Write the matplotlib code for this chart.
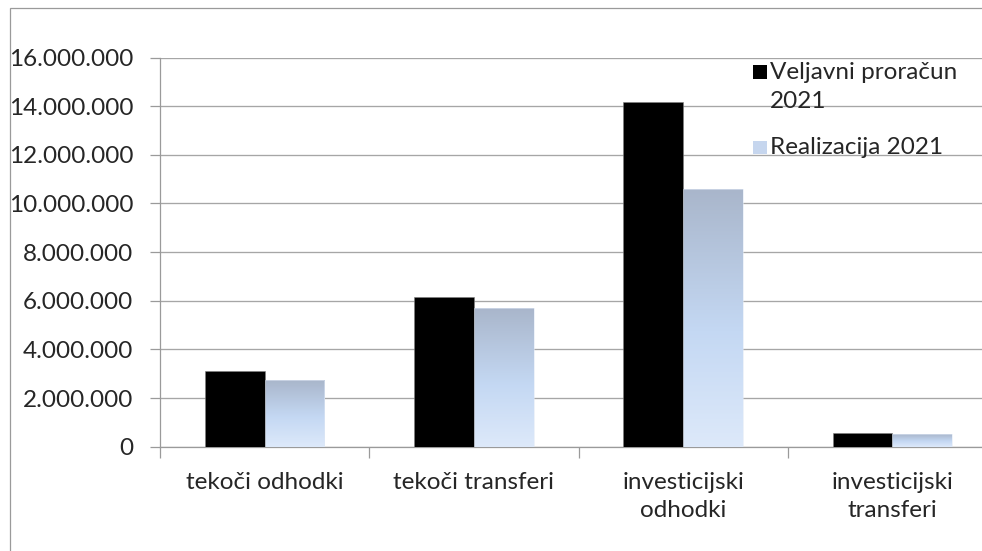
import matplotlib.pyplot as plt
import numpy as np
from matplotlib.colors import LinearSegmentedColormap
from matplotlib.patches import Rectangle
from matplotlib.ticker import FuncFormatter, FixedLocator

W, H = 982, 551

categories = ['tekoči odhodki', 'tekoči transferi',
              'investicijski\nodhodki', 'investicijski\ntransferi']
veljavni = [3120000, 6140000, 14190000, 575000]
realizacija = [2750000, 5700000, 10600000, 530000]
series_names = ['Veljavni proračun\n2021', 'Realizacija 2021']

plt.rcParams['font.family'] = ['Lato', 'DejaVu Sans']
FS = 17.5
TXT = '#262626'


def fx(px):
    return px / W


def fy(py):
    return 1 - py / H


fig = plt.figure(figsize=(W / 100, H / 100), dpi=100)
fig.patch.set_facecolor('white')

# outer chart border (only left/top visible in the reference)
fig.add_artist(Rectangle((fx(10), fy(600)), fx(1100), fy(8) - fy(600),
                         transform=fig.transFigure, fill=False,
                         edgecolor='#9a9a9a', lw=0.9))

left, right = 160, 997
top, bottom = 57.5, 446.7
ax = fig.add_axes([fx(left), fy(bottom), fx(right - left), fy(top) - fy(bottom)])

x = np.arange(len(categories))
bw = 0.285
ax.bar(x - bw / 2, veljavni, bw, color='black', edgecolor='#7f7f7f',
       linewidth=0.4, zorder=3)
real_bars = ax.bar(x + bw / 2, realizacija, bw, color='none',
                   edgecolor='#dfe8f5', linewidth=0.4, zorder=3)

grad = LinearSegmentedColormap.from_list(
    'real', [(0.0, '#dde9fa'), (0.45, '#c4d8f3'), (1.0, '#a9b6cb')])
g = np.linspace(0, 1, 256).reshape(-1, 1)
for b in real_bars:
    x0, w, h = b.get_x(), b.get_width(), b.get_height()
    ax.imshow(g, cmap=grad, origin='lower', aspect='auto',
              extent=[x0, x0 + w, 0, h], zorder=2.9)

ax.set_xlim(-0.5, len(categories) - 0.5)
ax.set_ylim(0, 16000000)
ax.set_yticks(np.arange(0, 16000001, 2000000))
ax.yaxis.set_major_formatter(FuncFormatter(lambda v, p: f'{int(v):,}'.replace(',', '.')))

ax.set_xticks(x)
ax.set_xticklabels(categories, linespacing=1.45)
ax.xaxis.set_minor_locator(FixedLocator(np.arange(-0.5, len(categories), 1)))
ax.tick_params(axis='x', which='major', length=0, pad=18, labelsize=FS,
               labelcolor=TXT)
ax.tick_params(axis='x', which='minor', length=8, width=0.9, color='#9a9a9a')
ax.tick_params(axis='y', length=7.2, width=0.9, color='#9a9a9a', pad=12,
               labelsize=FS, labelcolor=TXT)

ax.grid(axis='y', color='#a6a6a6', lw=0.95, zorder=0)
ax.set_axisbelow(True)
for s in ['top', 'right']:
    ax.spines[s].set_visible(False)
for s in ['left', 'bottom']:
    ax.spines[s].set_color('#9a9a9a')
    ax.spines[s].set_linewidth(0.9)

# legend
fig.add_artist(Rectangle((fx(752.5), fy(78.5)), fx(14), fy(65) - fy(78.5),
                         transform=fig.transFigure, facecolor='black',
                         edgecolor='none'))
fig.add_artist(Rectangle((fx(752.5), fy(154)), fx(14), fy(141) - fy(154),
                         transform=fig.transFigure, facecolor='#c6d6ee',
                         edgecolor='none'))
fig.text(fx(770), fy(87), series_names[0], fontsize=FS, color=TXT,
         va='center', ha='left', linespacing=1.42)
fig.text(fx(770), fy(147), series_names[1], fontsize=FS, color=TXT,
         va='center', ha='left')

fig.savefig('out.png', dpi=100)
